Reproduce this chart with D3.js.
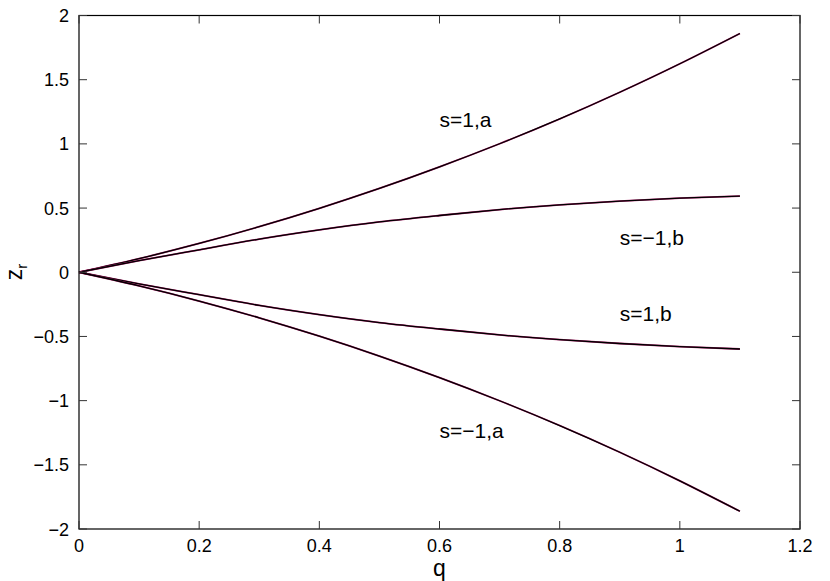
<!DOCTYPE html>
<html><head><meta charset="utf-8">
<script src="https://cdn.jsdelivr.net/npm/d3@7"></script>
<style>body{margin:0;background:#fff}svg{display:block}text{font-family:"Liberation Sans",Arial,sans-serif;fill:#000}</style>
</head><body><svg id="c" width="830" height="581"></svg>
<script>
const qValues = [0,0.1,0.2,0.3,0.4,0.5,0.6,0.7,0.8,0.9,1.0,1.1];
const s1a  = [0,0.106,0.224,0.355,0.498,0.653,0.821,1.001,1.194,1.402,1.624,1.86];
const sm1b = [0,0.09,0.175,0.258,0.33,0.392,0.442,0.488,0.525,0.554,0.577,0.593];
const s1b  = [0,-0.09,-0.175,-0.258,-0.33,-0.392,-0.442,-0.488,-0.525,-0.555,-0.58,-0.598];
const sm1a = [0,-0.106,-0.224,-0.355,-0.498,-0.653,-0.821,-1.001,-1.194,-1.402,-1.625,-1.862];
const seriesNames = ["s=1,a","s=\u22121,b","s=1,b","s=\u22121,a"];
const labelPos = [[0.6,1.19],[0.9,0.27],[0.9,-0.32],[0.6,-1.23]];
const xTicks = [0,0.2,0.4,0.6,0.8,1,1.2];
const yTicks = [-2,-1.5,-1,-0.5,0,0.5,1,1.5,2];

const svg = d3.select("#c");
const L=79, R=800, T=15.5, B=529;
const x = d3.scaleLinear().domain([0,1.2]).range([L,R]);
const y = d3.scaleLinear().domain([-2,2]).range([B,T]);
const fmt = v => String(v).replace("-","\u2212");

const series=[s1a,sm1b,s1b,sm1a];
const line = d3.line().x((d,i)=>x(qValues[i])).y(d=>y(d)).curve(d3.curveNatural);
series.forEach(s=>{
  svg.append("path").attr("d",line(s)).attr("fill","none").attr("stroke","#b0206a").attr("stroke-width",1.8);
  svg.append("path").attr("d",line(s)).attr("fill","none").attr("stroke","#000").attr("stroke-width",1.3);
});

svg.append("rect").attr("x",L).attr("y",T).attr("width",R-L).attr("height",B-T)
  .attr("fill","none").attr("stroke","#000").attr("stroke-width",1.2);

const tl=8;
const g=svg.append("g").attr("stroke","#333").attr("stroke-width",1);
xTicks.forEach(v=>{
  g.append("line").attr("x1",x(v)).attr("x2",x(v)).attr("y1",B).attr("y2",B-tl);
  g.append("line").attr("x1",x(v)).attr("x2",x(v)).attr("y1",T).attr("y2",T+tl);
  svg.append("text").attr("x",x(v)).attr("y",552).attr("text-anchor","middle").attr("font-size",18).text(fmt(v));
});
yTicks.forEach(v=>{
  g.append("line").attr("x1",L).attr("x2",L+tl).attr("y1",y(v)).attr("y2",y(v));
  g.append("line").attr("x1",R).attr("x2",R-tl).attr("y1",y(v)).attr("y2",y(v));
  svg.append("text").attr("x",69).attr("y",y(v)+6.5).attr("text-anchor","end").attr("font-size",18).text(fmt(v));
});

seriesNames.forEach((n,i)=>{
  svg.append("text").attr("x",x(labelPos[i][0])).attr("y",y(labelPos[i][1])+7.5).attr("font-size",21).text(n);
});

svg.append("text").attr("x",x(0.6)).attr("y",576).attr("text-anchor","middle").attr("font-size",23).text("q");
const yt=svg.append("text").attr("transform","translate(22,272) rotate(-90)").attr("text-anchor","middle").attr("font-size",23);
yt.append("tspan").text("z");
yt.append("tspan").attr("font-size",15).attr("dy",5).text("r");
</script></body></html>
